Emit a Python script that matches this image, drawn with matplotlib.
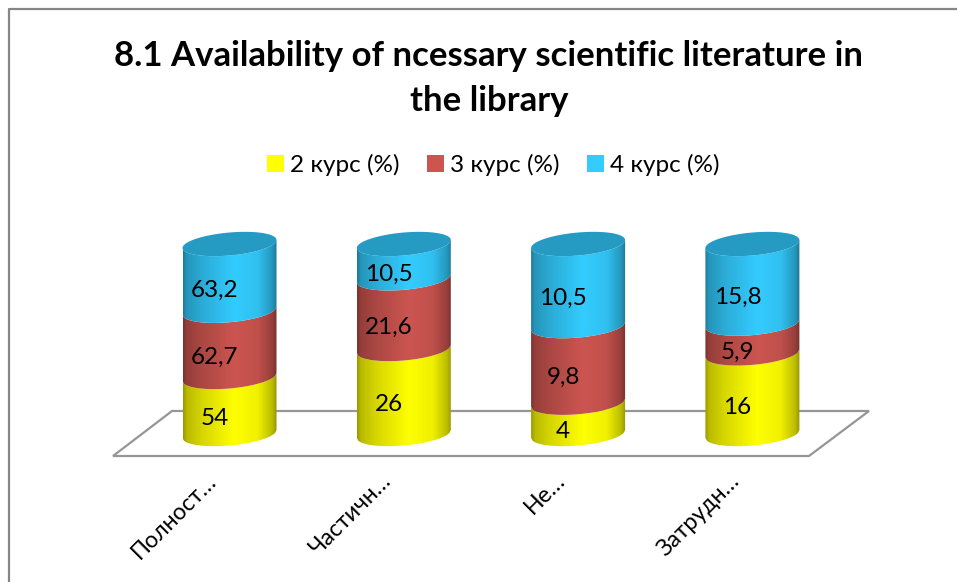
import numpy as np
import matplotlib
matplotlib.use("Agg")
import matplotlib.pyplot as plt
from matplotlib.lines import Line2D
from matplotlib.patches import Patch, Polygon, PathPatch
from matplotlib.path import Path
from matplotlib.transforms import ScaledTranslation

plt.rcParams["font.family"] = ["Lato", "Open Sans", "DejaVu Sans"]

categories = ["Полност…", "Частичн…", "Не…", "Затрудн…"]
series_names = ["2 курс (%)", "3 курс (%)", "4 курс (%)"]
course2 = [54, 26, 4, 16]
course3 = [62.7, 21.6, 9.8, 5.9]
course4 = [63.2, 10.5, 10.5, 15.8]
labels2 = ["54", "26", "4", "16"]
labels3 = ["62,7", "21,6", "9,8", "5,9"]
labels4 = ["63,2", "10,5", "10,5", "15,8"]
colors = ["#FFFF00", "#CC5550", "#33CCFF"]
title = "8.1 Availability of ncessary scientific literature in\nthe library"

W, H = 957, 582
fig = plt.figure(figsize=(W / 100, H / 100), dpi=100)

# оси подогнаны так, что 0 и 100% попадают на низ и верх цилиндров
x_step = 174.3
left = (229.5 - x_step / 2) / W
width = 4 * x_step / W
bottom = (H - 434) / H
height = 190 / H
ax = fig.add_axes([left, bottom, width, height])


def fig_xy(x, y):
    return x / W, 1 - y / H


# рамка (видны только левая и верхняя стороны) и "пол" диаграммы
frame = [fig_xy(9, H), fig_xy(9, 9), fig_xy(W, 9)]
fig.add_artist(Line2D([p[0] for p in frame], [p[1] for p in frame], transform=fig.transFigure,
                      color="#868686", linewidth=1.6))
floor = [fig_xy(113, 456), fig_xy(809, 456), fig_xy(869, 411), fig_xy(172, 411)]
fig.add_artist(Polygon(floor, closed=True, transform=fig.transFigure, fill=False,
                       edgecolor="#969696", linewidth=1.6, zorder=0))

half_w = 47 / x_step
half_h = 11.5 * 100 / 190
tilt = 4 * 100 / 190
shade_u = [0, 0.04, 0.2, 0.55, 0.8, 0.95, 1]
shade_v = [0.6, 0.73, 0.84, 1, 0.94, 0.74, 0.58]


def gradient(color):
    rgb = np.array(matplotlib.colors.to_rgb(color))
    u = np.linspace(0, 1, 200)
    return (np.interp(u, shade_u, shade_v)[:, None] * rgb)[None, :, :]


def front_arc(xc, y, n=60):
    t = np.linspace(-1, 1, n)
    return xc + t * half_w, y + tilt * t - half_h * np.sqrt(1 - t ** 2)


def draw_segment(xc, y0, y1, color):
    x_a, y_a = front_arc(xc, y0)
    x_b, y_b = front_arc(xc, y1)
    verts = np.r_[np.c_[x_a, y_a], np.c_[x_b, y_b][::-1], [[x_a[0], y_a[0]]]]
    im = ax.imshow(gradient(color), extent=[xc - half_w, xc + half_w, y0 - 20, y1 + 20],
                   aspect="auto", zorder=2, interpolation="bilinear")
    # иначе картинка обрезается по границам осей
    im.set_clip_box(fig.bbox)
    im.set_clip_path(PathPatch(Path(verts), transform=ax.transData))


data = np.array([course2, course3, course4], dtype=float)
shares = data / data.sum(axis=0) * 100
text_labels = [labels2, labels3, labels4]
xs = np.arange(len(categories))

for i in xs:
    base = 0
    for s in range(3):
        top = base + shares[s, i]
        draw_segment(i, base, top, colors[s])
        ax.text(i - 15 / x_step, (base + top) / 2 - half_h - 1, text_labels[s][i],
                ha="center", va="center", fontsize=17.5, color="black", zorder=4, clip_on=False)
        base = top
    # верхняя крышка цилиндра
    t = np.linspace(0, 2 * np.pi, 120)
    cap_x = i + half_w * np.cos(t)
    cap_y = base + tilt * np.cos(t) + half_h * np.sin(t)
    ax.fill(cap_x, cap_y, color="#259BC3", zorder=3, linewidth=0, clip_on=False)

ax.set_xlim(-0.5, 3.5)
ax.set_ylim(0, 100)
ax.set_yticks([])
ax.set_xticks(xs)
ax.set_xticklabels(categories, fontsize=16.7, rotation=45, ha="right", va="top", rotation_mode="anchor")
ax.tick_params(axis="x", length=0)
shift = ScaledTranslation(-24 / 100, -31 / 100, fig.dpi_scale_trans)
for lab in ax.get_xticklabels():
    lab.set_transform(lab.get_transform() + shift)
for side in ax.spines.values():
    side.set_visible(False)
ax.patch.set_alpha(0)

fig.text(489 / W, 1 - 78.5 / H, title, ha="center", va="center", fontsize=25,
         fontweight="bold", linespacing=1.5)

handles = [Patch(facecolor=c, edgecolor="none") for c in colors]
fig.legend(handles, series_names, loc="center", bbox_to_anchor=(493.5 / W, 1 - 165 / H), ncol=3,
           frameon=False, fontsize=17.5, handlelength=0.7, handleheight=0.7,
           handletextpad=0.25, columnspacing=1.13, borderpad=0)

fig.savefig("out.png", dpi=100)
